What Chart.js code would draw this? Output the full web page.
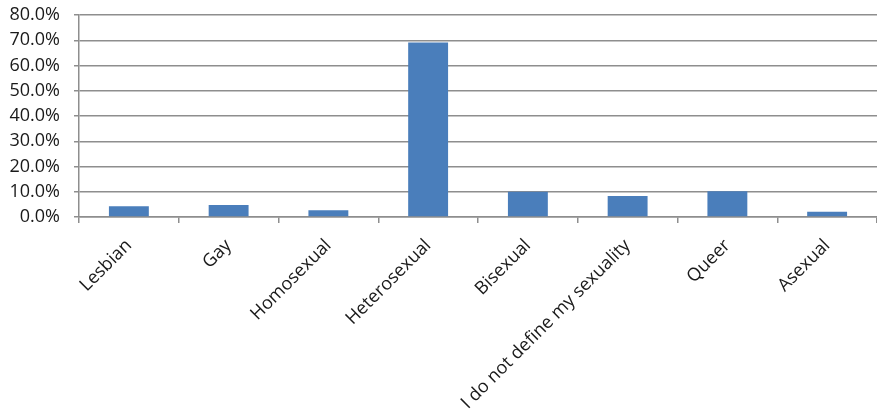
<!DOCTYPE html>
<html>
<head>
<meta charset="utf-8">
<script src="https://cdn.jsdelivr.net/npm/chart.js@4/dist/chart.umd.min.js"></script>
<style>
  html, body { margin: 0; padding: 0; background: #ffffff; }
  #wrap { width: 877px; height: 417px; position: relative; }
</style>
</head>
<body>
<div id="wrap"><canvas id="chart"></canvas></div>
<script>
// Sexual identity of respondents (percent of respondents)
const categories = [
  'Lesbian', 'Gay', 'Homosexual', 'Heterosexual',
  'Bisexual', 'I do not define my sexuality', 'Queer', 'Asexual'
];
const shares = [4.3, 4.8, 2.7, 69.1, 10.0, 8.3, 10.2, 2.1];
const yMin = 0;
const yMax = 80;
const yStep = 10;

const gridGray = '#8e8e8e';
const textColor = '#1a1a1a';

new Chart(document.getElementById('chart'), {
  type: 'bar',
  data: {
    labels: categories,
    datasets: [{
      data: shares,
      backgroundColor: '#4a7ebb',
      borderWidth: 0,
      barPercentage: 0.4,
      categoryPercentage: 1.0
    }]
  },
  options: {
    responsive: true,
    maintainAspectRatio: false,
    animation: false,
    layout: { padding: 0 },
    plugins: {
      legend: { display: false },
      tooltip: { enabled: false }
    },
    scales: {
      x: {
        grid: {
          offset: true,
          drawOnChartArea: false,
          drawTicks: true,
          tickLength: 6,
          color: gridGray,
          lineWidth: 1.5
        },
        border: { display: true, color: gridGray, width: 1.5 },
        ticks: {
          minRotation: 45,
          maxRotation: 45,
          autoSkip: false,
          padding: 12,
          color: textColor,
          font: { family: '"Open Sans", sans-serif', size: 18 }
        },
        afterFit(scale) { scale.height = 200; }
      },
      y: {
        min: yMin,
        max: yMax,
        grid: {
          color: gridGray,
          lineWidth: 1.5,
          drawTicks: true,
          tickLength: 5
        },
        border: { display: true, color: gridGray, width: 1.5 },
        ticks: {
          stepSize: yStep,
          autoSkip: false,
          padding: 14,
          color: textColor,
          font: { family: '"Open Sans", sans-serif', size: 18 },
          callback: (v) => v.toFixed(1) + '%'
        },
        afterFit(scale) {
          // fixed axis band and top gap so the 80% line sits near the top edge
          scale.width = 79;
          scale.paddingTop = 15;
          scale.paddingBottom = 0;
        }
      }
    }
  }
});
</script>
</body>
</html>
